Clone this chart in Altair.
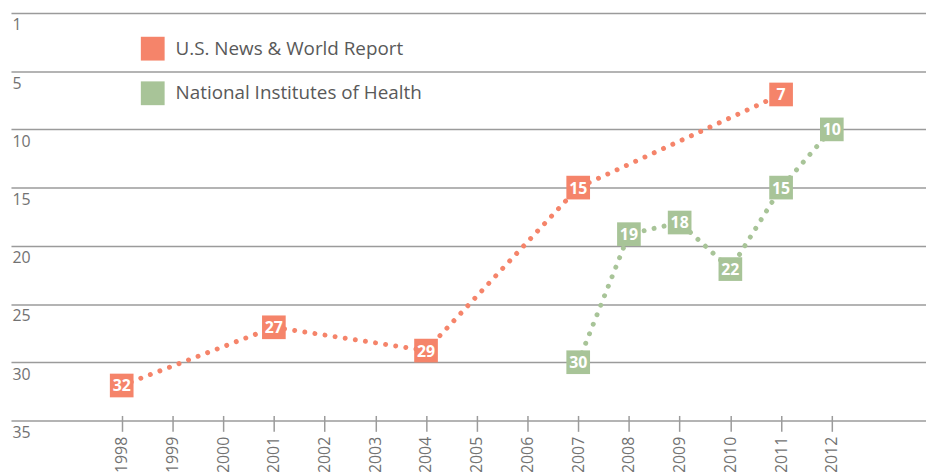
import altair as alt
import pandas as pd

# Data
years_usn = [1998, 2001, 2004, 2007, 2011]
ranks_usn = [32, 27, 29, 15, 7]
years_nih = [2007, 2008, 2009, 2010, 2011, 2012]
ranks_nih = [30, 19, 18, 22, 15, 10]
series_names = ["U.S. News & World Report", "National Institutes of Health"]
series_colors = ["#F5846A", "#A8C498"]
year_ticks = list(range(1998, 2013))
rank_ticks = [0, 5, 10, 15, 20, 25, 30, 35]

df = pd.concat([
    pd.DataFrame({"year": years_usn, "rank": ranks_usn, "series": series_names[0]}),
    pd.DataFrame({"year": years_nih, "rank": ranks_nih, "series": series_names[1]}),
], ignore_index=True)

grid_col = "#9b9b9b"
lab_col = "#727272"

x = alt.X(
    "year:Q",
    scale=alt.Scale(domain=[1995.817, 2013.857], nice=False, zero=False),
    axis=alt.Axis(
        values=year_ticks, format="d", title=None, grid=False, domain=False,
        tickSize=16, tickWidth=1.5, tickColor=grid_col, offset=-5,
        labelAngle=270, labelPadding=5, labelFontSize=16, labelColor=lab_col,
        labelFont="Open Sans",
    ),
)
y = alt.Y(
    "rank:Q",
    scale=alt.Scale(domain=[0, 35], reverse=True, nice=False, zero=False),
    axis=alt.Axis(
        values=rank_ticks, title=None, grid=True, gridColor=grid_col, gridWidth=1.5,
        domain=False, ticks=False, tickSize=0, labelAlign="left", labelBaseline="top",
        labelPadding=-1, labelOffset=4, labelFontSize=16, labelColor=lab_col,
        labelFont="Open Sans",
        labelExpr="datum.value == 0 ? '1' : datum.label",
    ),
)
color_scale = alt.Scale(domain=series_names, range=series_colors)

base = alt.Chart(df)

lines = base.mark_line(
    strokeWidth=5, strokeCap="round", strokeDash=[0.01, 10.3]
).encode(
    x=x, y=y,
    color=alt.Color("series:N", scale=color_scale, legend=None),
    detail="series:N",
)

squares = base.mark_square(size=570, opacity=1, filled=True).encode(
    x=x, y=y,
    color=alt.Color(
        "series:N", scale=color_scale,
        legend=alt.Legend(
            orient="none", legendX=131, legendY=24, title=None,
            symbolType="square", symbolSize=576, symbolStrokeWidth=0,
            symbolOpacity=1, labelFontSize=19, labelColor="#595959",
            labelFont="Open Sans", labelLimit=500, rowPadding=21,
            labelOffset=11, padding=0,
        ),
    ),
)

labels = base.mark_text(
    color="white", fontWeight="bold", fontSize=16, font="Open Sans",
    align="center", baseline="middle", dy=1,
).encode(x=x, y=y, text="rank:Q")

chart = alt.layer(lines, squares, labels).resolve_legend(
    color="independent"
).properties(
    width=923, height=411,
    autosize=alt.AutoSizeParams(type="none"),
    padding={"left": 3, "top": 3, "right": 0, "bottom": 50},
).configure_view(stroke=None)

chart.save("out.html", embed_options={"renderer": "svg", "actions": False})
